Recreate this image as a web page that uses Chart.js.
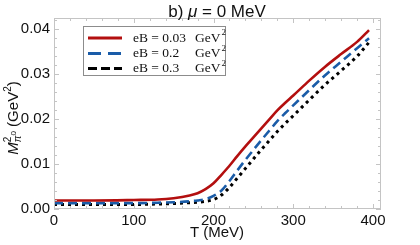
<!DOCTYPE html>
<html>
<head>
<meta charset="utf-8">
<script src="https://cdn.jsdelivr.net/npm/chart.js@4"></script>
<style>
  html, body { margin: 0; padding: 0; background: #fff; }
  #wrap { width: 420px; height: 245px; }
</style>
</head>
<body>
<div id="wrap"><canvas id="grafico" width="420" height="245"></canvas></div>
<script>
// temperaturas (MeV)
const temperaturas = [0, 50, 100, 130, 150, 170, 180, 190, 200, 210, 220, 230, 240, 250, 260, 270, 280, 290, 300, 320, 340, 360, 380, 395];

// M^2 (GeV^2) para cada eB
const massaEB003 = [0.0019, 0.0019, 0.0020, 0.0021, 0.0024, 0.0030, 0.0035, 0.0044, 0.0057, 0.0076, 0.0096, 0.0118, 0.0139, 0.0159, 0.0179, 0.0199, 0.0219, 0.0236, 0.0252, 0.0285, 0.0316, 0.0344, 0.0371, 0.0397];
const massaEB02 = [0.0013, 0.0013, 0.0013, 0.0014, 0.0015, 0.0017, 0.0019, 0.0022, 0.0029, 0.0041, 0.0062, 0.0086, 0.0109, 0.0131, 0.0153, 0.0174, 0.0195, 0.0213, 0.0230, 0.0264, 0.0297, 0.0327, 0.0357, 0.0379];
const massaEB03 = [0.0010, 0.0010, 0.0010, 0.0011, 0.0012, 0.0014, 0.0015, 0.0017, 0.0021, 0.0031, 0.0048, 0.0069, 0.0090, 0.0111, 0.0132, 0.0152, 0.0172, 0.0190, 0.0207, 0.0242, 0.0276, 0.0307, 0.0339, 0.0370];

const rotulosEB = ["eB = 0.03", "eB = 0.2", "eB = 0.3"];
const ticksX = [0, 100, 200, 300, 400];
const ticksY = [0, 0.01, 0.02, 0.03, 0.04];

const pontos = vals => temperaturas.map((t, i) => ({ x: t, y: vals[i] }));

const SANS = "'Liberation Sans', Arial, sans-serif";
const SERIF = "'Liberation Serif', 'Times New Roman', serif";

// moldura, ticks internos, titulos e legenda
const extras = {
    id: "extras",
    afterDraw(chart) {
        const ctx = chart.ctx;
        const a = chart.chartArea;
        const sx = chart.scales.x;
        const sy = chart.scales.y;
        ctx.save();

        ctx.strokeStyle = "#c4c4c4";
        ctx.lineWidth = 1;
        ctx.strokeRect(a.left + 0.5, a.top + 0.5, a.right - a.left - 1, a.bottom - a.top - 1);

        ctx.beginPath();
        for (let t = 0; t <= 410; t += 20) {
            const px = Math.round(sx.getPixelForValue(t)) + 0.5;
            const len = t % 100 === 0 ? 5 : 3;
            ctx.moveTo(px, a.bottom); ctx.lineTo(px, a.bottom - len);
            ctx.moveTo(px, a.top); ctx.lineTo(px, a.top + len);
        }
        for (let k = 0; k <= 21; k++) {
            const v = k * 0.002;
            const py = Math.round(sy.getPixelForValue(v)) + 0.5;
            const len = k % 5 === 0 ? 5 : 3;
            ctx.moveTo(a.left, py); ctx.lineTo(a.left + len, py);
            ctx.moveTo(a.right, py); ctx.lineTo(a.right - len, py);
        }
        ctx.stroke();

        // titulo
        ctx.fillStyle = "#111";
        ctx.textBaseline = "middle";
        const pecas = [["b) ", "17px " + SANS], ["μ", "italic 17px " + SANS], [" = 0 MeV", "17px " + SANS]];
        let larg = 0;
        pecas.forEach(p => { ctx.font = p[1]; larg += ctx.measureText(p[0]).width; });
        let x = 217 - larg / 2;
        ctx.textAlign = "left";
        pecas.forEach(p => { ctx.font = p[1]; ctx.fillText(p[0], x, 12); x += ctx.measureText(p[0]).width; });

        // eixo x
        ctx.font = "15px " + SANS;
        ctx.textAlign = "center";
        ctx.fillText("T (MeV)", 217, 233);

        // eixo y
        ctx.save();
        ctx.translate(14, 118);
        ctx.rotate(-Math.PI / 2);
        const yp = [
            ["M", "italic 15px " + SANS, 0],
            ["2", "10px " + SANS, -6, true],
            ["π", "italic 10px " + SANS, 4],
            ["0", "8px " + SANS, 0],
            [" (GeV", "15px " + SANS, 0],
            ["2", "10px " + SANS, -6],
            [")", "15px " + SANS, 0]
        ];
        let ly = 0;
        yp.forEach(p => { ctx.font = p[1]; if (!p[3]) ly += ctx.measureText(p[0]).width; });
        let cx = -ly / 2;
        ctx.textAlign = "left";
        yp.forEach(p => {
            ctx.font = p[1];
            ctx.fillText(p[0], cx, p[2]);
            if (!p[3]) cx += ctx.measureText(p[0]).width;
        });
        ctx.restore();

        // legenda
        ctx.fillStyle = "#fff";
        ctx.fillRect(83, 26, 142, 49);
        ctx.strokeStyle = "#8c8c8c";
        ctx.lineWidth = 1;
        ctx.strokeRect(83.5, 26.5, 142, 49);
        const ds = chart.data.datasets;
        const linhas = [38, 53.5, 68.5];
        ds.forEach((d, i) => {
            ctx.beginPath();
            ctx.strokeStyle = d.borderColor;
            ctx.lineWidth = 3;
            ctx.setLineDash(i === 0 ? [] : (i === 1 ? [13, 7] : [9, 4]));
            ctx.moveTo(88, linhas[i]);
            ctx.lineTo(122, linhas[i]);
            ctx.stroke();
            ctx.setLineDash([]);
            ctx.fillStyle = "#111";
            ctx.font = "13.5px " + SERIF;
            ctx.textAlign = "left";
            ctx.fillText(rotulosEB[i], 133, linhas[i]);
            ctx.fillText("GeV", 195, linhas[i]);
            const w = ctx.measureText("GeV").width;
            ctx.font = "9px " + SERIF;
            ctx.fillText("2", 195 + w + 1, linhas[i] - 5);
        });

        ctx.restore();
    }
};

new Chart(document.getElementById("grafico"), {
    type: "line",
    data: {
        datasets: [
            { data: pontos(massaEB003), borderColor: "#b30f0f", borderWidth: 2.6 },
            { data: pontos(massaEB02), borderColor: "#1a5ca8", borderWidth: 2.6, borderDash: [9, 5] },
            { data: pontos(massaEB03), borderColor: "#000000", borderWidth: 3, borderDash: [3, 4] }
        ]
    },
    options: {
        responsive: false,
        animation: false,
        layout: { padding: { top: 18, right: 39, left: 0, bottom: 0 } },
        elements: {
            point: { radius: 0 },
            line: { cubicInterpolationMode: "monotone", fill: false, borderCapStyle: "butt" }
        },
        plugins: { legend: { display: false }, tooltip: { enabled: false } },
        scales: {
            x: {
                type: "linear",
                min: 0,
                max: 410,
                afterFit: s => { s.height = 36; },
                afterBuildTicks: s => { s.ticks = ticksX.map(v => ({ value: v })); },
                grid: { display: false, drawTicks: false },
                border: { display: false },
                ticks: { padding: 3, color: "#111", font: { size: 15, family: SANS } }
            },
            y: {
                min: 0,
                max: 0.0424,
                afterFit: s => { s.width = 54; },
                afterBuildTicks: s => { s.ticks = ticksY.map(v => ({ value: v })); },
                grid: { display: false, drawTicks: false },
                border: { display: false },
                ticks: {
                    padding: 4,
                    color: "#111",
                    font: { size: 15, family: SANS },
                    callback: v => v.toFixed(2)
                }
            }
        }
    },
    plugins: [extras]
});
</script>
</body>
</html>
